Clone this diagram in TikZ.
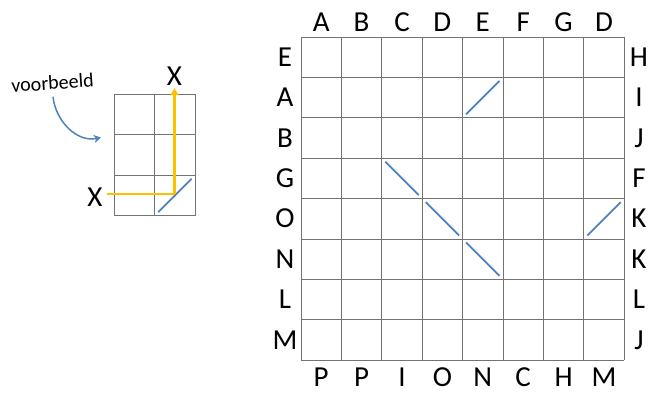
\documentclass[tikz,border=0pt]{standalone}
\usepackage{fontspec}
\setmainfont{Carlito}
\usetikzlibrary{arrows.meta,positioning}
\definecolor{mirrorblue}{RGB}{79,129,189}
\definecolor{beamyellow}{RGB}{255,192,0}
\tikzset{
  gridline/.style={draw=black!55, line width=0.8pt},
  letter/.style={font=\fontsize{29}{29}\selectfont, inner sep=0pt, anchor=base},
  mirror/.style={draw=mirrorblue, line width=1.8pt},
  beam/.style={draw=beamyellow, line width=2.2pt},
  beamarr/.style={beam, -{Triangle[length=7pt,width=8pt]}},
  hintarr/.style={draw=mirrorblue, line width=1.5pt, -{Stealth[length=7pt,width=8pt,inset=2pt]}},
  hint/.style={font=\fontsize{20}{20}\selectfont, inner sep=0pt, anchor=base, rotate=4}
}

\begin{document}
\begin{tikzpicture}[x=1pt, y=-1pt]
\useasboundingbox (0,0) rectangle (649,392);

% small example grid
\foreach \i in {0,1,2} \draw[gridline] (114.3+\i*40.4, 94.3) -- ++(0,121.2);
\foreach \j in {0,...,3} \draw[gridline] (114.3, 94.3+\j*40.4) -- ++(80.8,0);
\draw[mirror] (154.7+3.5, 175.1+37) -- ++(33.4,-33.4);

\node[letter] (xin) at (95,206.3) {X};
\node[letter] (xout) at (174.5,85.5) {X};
\coordinate (turn) at (174.5,194.3);
\draw[beam] ([xshift=4pt]xin.east |- turn) -- (turn);
\draw[beamarr] (turn) -- ([yshift=-2.5pt]xout.south);

\node[hint] (vb) at (53,89.5) {voorbeeld};
\coordinate (hintend) at (101,137.5);
\draw[hintarr] ([yshift=-7pt]vb.south) to[out=-84, in=192] (hintend);

% main grid
\foreach \i in {0,...,8} {
  \draw[gridline] (301+\i*40.4, 37) -- ++(0,323.2);
  \draw[gridline] (301, 37+\i*40.4) -- ++(323.2,0);
}
\foreach \l [count=\i] in {A,B,C,D,E,F,G,D}
  \node[letter] (top\i) at (301+\i*40.4-20.2, 31.5) {\l};
\foreach \l [count=\i] in {P,P,I,O,N,C,H,M}
  \node[letter] (bot\i) at (301+\i*40.4-20.2, 386) {\l};
\foreach \l [count=\i] in {E,A,B,G,O,N,L,M}
  \node[letter] (left\i) at (285, 37+\i*40.4-11.2) {\l};
\foreach \l [count=\i] in {H,I,J,F,K,K,L,J}
  \node[letter] (right\i) at (639, 37+\i*40.4-11.2) {\l};

% mirrors
\foreach \c/\r in {3/4,4/5,5/6}
  \draw[mirror] (301+\c*40.4-40.4+3.5, 37+\r*40.4-40.4+3.5) -- ++(33.4,33.4);
\foreach \c/\r in {5/2,8/5}
  \draw[mirror] (301+\c*40.4-40.4+3.5, 37+\r*40.4-3.5) -- ++(33.4,-33.4);
\end{tikzpicture}
\end{document}
